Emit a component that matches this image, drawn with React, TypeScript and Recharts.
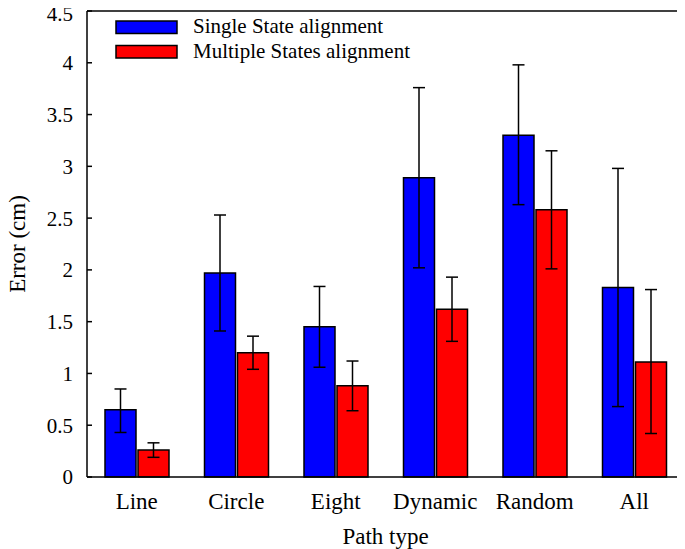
import React from 'react';
import { BarChart, Bar, XAxis, YAxis, ErrorBar, ReferenceLine, Customized } from 'recharts';

const categories = ['Line', 'Circle', 'Eight', 'Dynamic', 'Random', 'All'];
const singleValues = [0.65, 1.97, 1.45, 2.89, 3.30, 1.83];
const singleLow = [0.43, 1.41, 1.06, 2.02, 2.63, 0.68];
const singleHigh = [0.85, 2.53, 1.84, 3.76, 3.98, 2.98];
const multipleValues = [0.26, 1.20, 0.88, 1.62, 2.58, 1.11];
const multipleLow = [0.19, 1.04, 0.64, 1.31, 2.01, 0.42];
const multipleHigh = [0.33, 1.36, 1.12, 1.93, 3.15, 1.81];
const yTicks = [0, 0.5, 1, 1.5, 2, 2.5, 3, 3.5, 4, 4.5];
const seriesNames = ['Single State alignment', 'Multiple States alignment'];
const seriesColors = ['#0000ff', '#ff0000'];

const data = categories.map((c, i) => ({
  name: c,
  single: singleValues[i],
  singleErr: [singleValues[i] - singleLow[i], singleHigh[i] - singleValues[i]],
  multiple: multipleValues[i],
  multipleErr: [multipleValues[i] - multipleLow[i], multipleHigh[i] - multipleValues[i]],
}));

const FONT = '"Liberation Serif", "Times New Roman", serif';

const LegendSvg = () => (
  <g>
    {seriesNames.map((n, i) => (
      <g key={n}>
        <rect x={116} y={21 + i * 24.5} width={61} height={12.5} fill={seriesColors[i]} stroke="#000" strokeWidth={1.5} />
        <text x={193} y={33 + i * 24.5} fontSize={21} fontFamily={FONT} fill="#000">{n}</text>
      </g>
    ))}
  </g>
);

const XLabel = (props: any) => {
  const vb = props.viewBox || {};
  return (
    <text x={vb.x + vb.width / 2} y={vb.y + 67} textAnchor="middle" fontSize={23} fontFamily={FONT} fill="#000">Path type</text>
  );
};

const YLabel = (props: any) => {
  const vb = props.viewBox || {};
  const cy = vb.y + vb.height / 2;
  return (
    <text x={25} y={cy} transform={`rotate(-90, 25, ${cy})`} textAnchor="middle" fontSize={23} fontFamily={FONT} fill="#000">Error (cm)</text>
  );
};

const YTick = (props: any) => {
  const { x, y, payload } = props;
  const shift = payload.value === yTicks[yTicks.length - 1] ? 3 : 0;
  return (
    <text x={x} y={y + shift} dy="0.355em" textAnchor="end" fontSize={21} fontFamily={FONT} fill="#000">{payload.value}</text>
  );
};

export default function App() {
  return (
    <div style={{ fontFamily: FONT, position: 'relative', left: -8, top: -8, width: 685, height: 549 }}>
      <BarChart
        width={685}
        height={549}
        data={data}
        margin={{ top: 11, right: 0, bottom: 0, left: 0 }}
        barSize={31}
        barGap={2}
      >
        <XAxis
          dataKey="name"
          tickLine={false}
          axisLine={{ stroke: '#000', strokeWidth: 1.5 }}
          tick={{ fill: '#000', fontSize: 23, fontFamily: FONT }}
          tickMargin={10}
          height={72}
          label={<XLabel />}
        />
        <YAxis
          yAxisId="left"
          domain={[0, 4.5]}
          ticks={yTicks}
          width={87}
          tickSize={-5}
          tickMargin={19}
          tickLine={{ stroke: '#000', strokeWidth: 1.5 }}
          axisLine={{ stroke: '#000', strokeWidth: 1.5 }}
          tick={<YTick />}
          label={<YLabel />}
        />
        <YAxis
          yAxisId="right"
          orientation="right"
          domain={[0, 4.5]}
          ticks={yTicks}
          width={1}
          tick={false}
          tickSize={-5}
          tickLine={{ stroke: '#000', strokeWidth: 1.5 }}
          axisLine={{ stroke: '#000', strokeWidth: 1.5 }}
        />
        <ReferenceLine yAxisId="left" y={4.5} stroke="#000" strokeWidth={1.5} />
        <Bar yAxisId="left" dataKey="single" name={seriesNames[0]} fill={seriesColors[0]} stroke="#000" strokeWidth={1.5} isAnimationActive={false}>
          <ErrorBar dataKey="singleErr" width={6} stroke="#000" strokeWidth={1.5} direction="y" />
        </Bar>
        <Bar yAxisId="left" dataKey="multiple" name={seriesNames[1]} fill={seriesColors[1]} stroke="#000" strokeWidth={1.5} isAnimationActive={false}>
          <ErrorBar dataKey="multipleErr" width={6} stroke="#000" strokeWidth={1.5} direction="y" />
        </Bar>
        <Customized component={<LegendSvg />} />
      </BarChart>
    </div>
  );
}
